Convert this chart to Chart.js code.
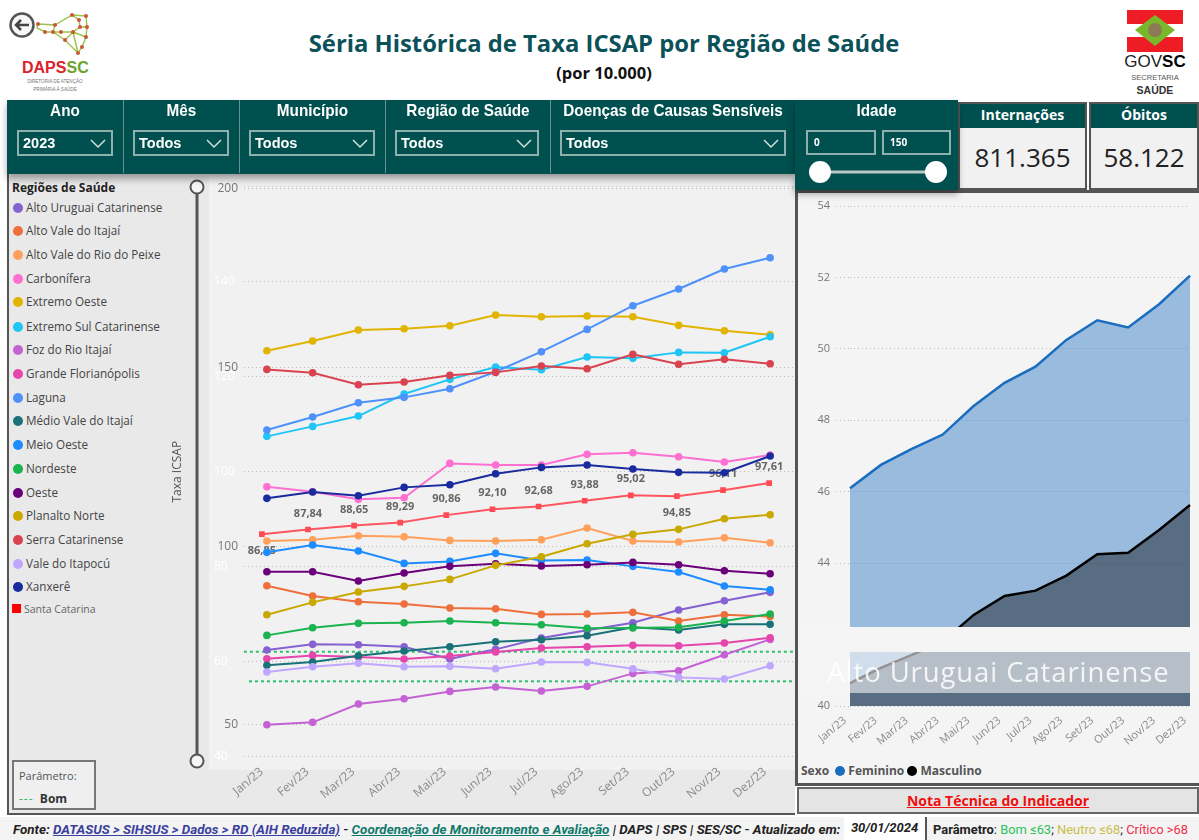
<!DOCTYPE html>
<html lang="pt-BR">
<head>
<meta charset="utf-8">
<title>Séria Histórica de Taxa ICSAP</title>
<script src="https://cdn.jsdelivr.net/npm/chart.js@4"></script>
<style>
  html, body { margin: 0; padding: 0; background: #fff; width: 1199px; height: 840px; overflow: hidden; }
  body { font-family: "Open Sans", sans-serif; position: relative; }
  .abs { position: absolute; }
  .title { left: 200px; width: 808px; top: 27px; text-align: center; font-size: 23.8px; font-weight: 700; color: #0b5159; white-space: nowrap; }
  .subtitle { left: 200px; width: 808px; top: 61px; text-align: center; font-size: 16.5px; font-weight: 700; color: #111; }
  .strip { left: 7px; top: 100px; width: 788px; height: 74px; background: #00504f; box-shadow: 0 5px 7px rgba(0,0,0,.35); }
  .idade { left: 795px; top: 100px; width: 163px; height: 90px; background: #00504f; box-shadow: 0 4px 7px rgba(0,0,0,.35); z-index: 5; }
  .sep { top: 100px; width: 1px; height: 73px; background: #6d8f8d; }
  .flabel { top: 101px; text-align: center; color: #fff; font-family: "Liberation Sans", sans-serif; font-weight: 700; font-size: 17px; white-space: nowrap; transform: scaleX(.9); }
  .dd { top: 130px; height: 22px; border: 2px solid #8fb0ad; color: #fff; font-family: "Liberation Sans", sans-serif; font-weight: 700; font-size: 14.5px; line-height: 22px; padding-left: 4px; box-sizing: content-box; }
  .dd svg { position: absolute; right: 5px; top: 7px; }
  .inp { top: 130px; border: 2px solid #8fb0ad; color: #fff; font-size: 10px; font-weight: 700; line-height: 21px; padding-left: 6px; z-index: 6; box-sizing: border-box; height: 25px; }
  .card { top: 102px; height: 88px; background: #f1f1f1; border: 2px solid #555; box-sizing: border-box; z-index: 4; }
  .card .h { height: 24px; background: #00504f; color: #fff; text-align: center; font-size: 14px; font-weight: 700; line-height: 21px; }
  .card .v { text-align: center; font-size: 26px; color: #222; line-height: 58px; }
  .left { left: 7px; top: 174px; width: 788px; height: 641px; background: #e9e9e9; border-left: 2px solid #555; border-bottom: 2px solid #555; box-sizing: border-box; }
  .plotbg { left: 209px; top: 176px; width: 586px; height: 594px; background: #f1f1f1; }
  .right { left: 795px; top: 190px; width: 404px; height: 596px; background: #f4f4f4; border-left: 3px solid #555; border-top: 3px solid #555; border-bottom: 3px solid #555; box-sizing: border-box; }
  .legend-item { left: 13px; height: 14px; font-size: 11.7px; line-height: 14px; color: #444; white-space: nowrap; }
  .legend-item i { display: inline-block; width: 10px; height: 10px; border-radius: 50%; margin-right: 3px; vertical-align: -1px; }
  .band1 { left: 798px; top: 627px; width: 401px; height: 25px; background: #f5f5f5; }
  .band2 { left: 798px; top: 652px; width: 401px; height: 41px; background: rgba(245,245,245,.6); color: rgba(255,255,255,.85); font-size: 27.5px; letter-spacing: .9px; text-align: center; line-height: 40px; white-space: nowrap; }
  .note { left: 797px; top: 787px; width: 402px; height: 27px; background: #e4e4e4; border: 2px solid #666; box-sizing: border-box; text-align: center; font-size: 14px; font-weight: 700; color: #f01010; text-decoration: underline; line-height: 24px; }
  .foot { left: 0; top: 817px; width: 1199px; height: 23px; background: #f3f3f3; }
  .fit { position: absolute; font-family: Roboto, sans-serif; font-size: 13.5px; white-space: nowrap; color: #222; transform-origin: left center; line-height: 20px; }
  canvas { position: absolute; }
</style>
</head>
<body>
<div class="abs title">Séria Histórica de Taxa ICSAP por Região de Saúde</div>
<div class="abs subtitle">(por 10.000)</div>

<!-- logo DAPS -->
<svg class="abs" style="left:5px;top:5px" width="100" height="92" viewBox="5 5 100 92">
  <g stroke="#9cc24a" stroke-width="1.4" fill="none">
    <path d="M38 24L55 25L72 15L86 16L87 27L86 37L82 47L78 53L65 40L53 32L45 32L37 28L38 24M55 25L53 32M61 32L73 32L80 27L79 20L72 15M73 32L65 40M73 32L86 37M80 27L87 27M78 53L73 32M45 32L61 32"/>
  </g>
  <g fill="#c9573a">
    <circle cx="38" cy="24" r="2"/><circle cx="55" cy="25" r="2"/><circle cx="72" cy="15" r="2"/><circle cx="86" cy="16" r="2"/>
    <circle cx="79" cy="20" r="2"/><circle cx="80" cy="27" r="2"/><circle cx="87" cy="27" r="2"/><circle cx="45" cy="32" r="2"/>
    <circle cx="53" cy="32" r="2"/><circle cx="61" cy="32" r="2"/><circle cx="73" cy="32" r="2"/><circle cx="86" cy="37" r="2"/>
    <circle cx="65" cy="40" r="2"/><circle cx="82" cy="47" r="2"/><circle cx="78" cy="53" r="2"/>
  </g>
  <circle cx="22" cy="25" r="11.5" fill="#f4f4f4" fill-opacity=".6" stroke="#555" stroke-width="2.5"/>
  <path d="M29 25H16M21 20L16 25L21 30" stroke="#444" stroke-width="2.5" fill="none"/>
  <text x="22" y="73" font-family="Liberation Sans" font-weight="700" font-size="16" fill="#d8232a">DAPS<tspan fill="#6da32d">SC</tspan></text>
  <text x="55" y="83" text-anchor="middle" font-family="Liberation Sans" font-size="4.6" fill="#777">DIRETORIA DE ATENÇÃO</text>
  <text x="55" y="91" text-anchor="middle" font-family="Liberation Sans" font-size="4.6" fill="#777">PRIMÁRIA À SAÚDE</text>
</svg>

<!-- logo GOVSC -->
<svg class="abs" style="left:1120px;top:5px" width="72" height="92" viewBox="1120 5 72 92">
  <rect x="1127" y="10" width="56" height="14" fill="#ee1c25"/>
  <rect x="1127" y="37" width="56" height="15" fill="#ee1c25"/>
  <path d="M1155 15L1175 30L1155 46L1135 30Z" fill="#78b82a"/>
  <circle cx="1155" cy="30" r="7" fill="#8a7a55"/>
  <text x="1155" y="67" text-anchor="middle" font-family="Liberation Sans" font-size="17" fill="#222">GOV<tspan font-weight="700" fill="#000">SC</tspan></text>
  <text x="1155" y="80" text-anchor="middle" font-family="Liberation Sans" font-size="7.5" fill="#555">SECRETARIA</text>
  <text x="1155" y="94" text-anchor="middle" font-family="Liberation Sans" font-weight="700" font-size="10.5" fill="#333">SAÚDE</text>
</svg>

<div class="abs left"></div>
<div class="abs plotbg"></div>
<div class="abs right"></div>

<div class="abs" style="left:12px;top:179px;font-size:12px;font-weight:700;color:#222">Regiões de Saúde</div>
<div id="legend"></div>

<canvas id="mainChart" width="627" height="642" style="left:170px;top:170px"></canvas>
<canvas id="sexChart" width="401" height="555" style="left:798px;top:193px"></canvas>

<!-- slider vertical -->
<svg class="abs" style="left:188px;top:178px" width="18" height="592">
  <line x1="9" y1="9" x2="9" y2="583" stroke="#555" stroke-width="3"/>
  <circle cx="9" cy="9" r="6.5" fill="#f6f6f6" stroke="#555" stroke-width="2"/>
  <circle cx="9" cy="583" r="6.5" fill="#f6f6f6" stroke="#555" stroke-width="2"/>
</svg>

<div class="abs band1"></div>
<div class="abs band2">Alto Uruguai Catarinense</div>

<div class="abs strip"></div>
<div class="abs sep" style="left:123px"></div>
<div class="abs sep" style="left:239px"></div>
<div class="abs sep" style="left:385px"></div>
<div class="abs sep" style="left:550px"></div>
<div id="filters"></div>

<div class="abs idade"></div>
<div class="abs flabel" style="left:795px;width:163px;z-index:6">Idade</div>
<div class="abs inp" style="left:806px;width:70px">0</div>
<div class="abs inp" style="left:882px;width:69px">150</div>
<svg class="abs" style="left:805px;top:158px;z-index:6" width="148" height="30">
  <line x1="15" y1="14" x2="131" y2="14" stroke="#b9c9c7" stroke-width="3"/>
  <circle cx="15" cy="14" r="11" fill="#fff"/>
  <circle cx="131" cy="14" r="11" fill="#fff"/>
</svg>

<div class="abs card" style="left:958px;width:129px"><div class="h">Internações</div><div class="v">811.365</div></div>
<div class="abs card" style="left:1089px;width:110px"><div class="h">Óbitos</div><div class="v">58.122</div></div>

<div class="abs" style="left:801px;top:762px;font-size:12px;font-weight:700;color:#555;white-space:nowrap">Sexo <i style="display:inline-block;width:10px;height:10px;border-radius:50%;background:#1a6cbf;vertical-align:-1px;margin-left:3px"></i> Feminino <i style="display:inline-block;width:10px;height:10px;border-radius:50%;background:#000;vertical-align:-1px"></i> Masculino</div>
<div class="abs note">Nota Técnica do Indicador</div>

<div class="abs" style="left:12px;top:760px;width:84px;height:50px;background:#efefef;border:2px solid #777;box-sizing:border-box;font-size:11px;color:#555;padding:6px 0 0 5px;z-index:3;white-space:nowrap">Parâmetro:<div style="margin-top:7px;font-weight:700;font-size:12px;color:#333"><span style="color:#2bb673;font-weight:400;letter-spacing:1px">---</span>&nbsp; Bom</div></div>

<div class="abs foot">
  <span class="fit" data-w="827" style="left:13px;top:2px;font-weight:700;font-style:italic">Fonte: <u style="color:#3b3f9e">DATASUS &gt; SIHSUS &gt; Dados &gt; RD (AIH Reduzida)</u> - <u style="color:#0f7a6c">Coordenação de Monitoramento e Avaliação</u> | DAPS | SPS | SES/SC - Atualizado em:</span>
  <div class="abs" style="left:844px;top:0;width:81px;height:23px;background:#fff;text-align:center;font-family:Roboto;font-size:13px;font-weight:700;font-style:italic;line-height:22px;color:#222">30/01/2024</div>
  <div class="abs" style="left:925px;top:0;width:2px;height:23px;background:#555"></div>
  <span class="fit" data-w="255" style="left:933px;top:2px"><b>Parâmetro</b>: <span style="color:#2bc45a">Bom ≤63</span>; <span style="color:#c8c04a">Neutro ≤68</span>; <span style="color:#f0304a">Crítico &gt;68</span></span>
</div>

<script>
const months = ['Jan/23','Fev/23','Mar/23','Abr/23','Mai/23','Jun/23','Jul/23','Ago/23','Set/23','Out/23','Nov/23','Dez/23'];

const altoUruguai = [62.46,63.65,63.58,63.16,60.56,62.6,64.98,66.6,68.21,70.88,72.84,74.6];
const altoValeItajai = [76,73.82,72.63,72.14,71.3,71.16,69.96,70.04,70.39,68.56,69.89,69.54];
const altoValeRioPeixe = [85.4,85.68,86.53,86.32,85.54,85.4,85.68,88.14,85.4,85.19,86.11,85.05];
const carbonifera = [96.84,95.79,94.18,94.53,101.75,101.4,101.4,103.65,104,103.16,102.04,103.51];
const extremoOeste = [125.47,127.51,129.82,130.11,130.74,132.98,132.63,132.77,132.63,130.81,129.68,128.84];
const extremoSul = [107.44,109.54,111.72,116.35,119.44,122.04,121.47,124.14,123.86,125.12,125.05,128.42];
const fozRioItajai = [46.74,47.23,51.09,52.21,53.75,54.67,53.82,54.81,57.54,58.11,61.47,64.7];
const grandeFloripa = [60.63,61.33,60.98,60.56,61.19,62.04,62.88,63.16,63.44,63.37,63.93,65.05];
const laguna = [108.77,111.51,114.53,115.65,117.47,121.05,125.26,129.96,134.95,138.46,142.67,145.05];
const medioVale = [59.23,59.93,61.26,62.25,63.16,64.21,64.63,65.47,67.23,66.67,67.86,67.86];
const meioOeste = [83.02,84.56,83.3,80.7,81.12,82.81,81.33,81.4,80.07,78.88,75.93,75.16];
const nordeste = [65.54,67.16,68.07,68.21,68.56,68.21,67.79,67.02,67.09,67.23,68.56,70.04];
const oeste = [78.95,78.95,76.98,78.67,80.07,80.63,80.14,80.42,80.91,80.42,79.16,78.53];
const planaltoNorte = [69.89,72.49,74.67,75.86,77.33,80.28,82.11,84.84,86.81,87.86,90.11,90.95];
const serraCatarinense = [121.54,120.84,118.32,118.88,120.28,120.91,122.25,121.68,124.7,122.6,123.65,122.74];
const valeItapocu = [57.82,58.95,59.65,58.95,59.02,58.53,59.93,59.86,58.53,56.7,56.35,59.16];
const xanxere = [94.39,95.72,94.95,96.7,97.26,99.58,100.91,101.4,100.56,99.86,99.79,103.3];
const santaCatarina = [86.85,87.84,88.65,89.29,90.86,92.10,92.68,93.88,95.02,94.85,96.11,97.61];

const bomAlto = [62.1,62.1];
const bomBaixo = [55.87,55.87];
const bomAltoX = [-0.39,11.52];
const bomBaixoX = [-0.28,11.52];

const feminino = [46.1,46.75,47.2,47.6,48.4,49.05,49.5,50.25,50.8,50.6,51.25,52.05];
const masculino = [40.64,41.07,41.43,41.8,42.55,43.08,43.23,43.65,44.25,44.29,44.93,45.63];

const mainTicks = [40,60,80,100,120,140,160];
const overTicks = [50,100,150,200];
const sexTicks = [40,42,44,46,48,50,52,54];

const regions = [
  ['Alto Uruguai Catarinense', altoUruguai, '#8661d1', 207],
  ['Alto Vale do Itajaí', altoValeItajai, '#ee6f3c', 230],
  ['Alto Vale do Rio do Peixe', altoValeRioPeixe, '#ffa05c', 254],
  ['Carbonífera', carbonifera, '#fd70d2', 278],
  ['Extremo Oeste', extremoOeste, '#e0b400', 301],
  ['Extremo Sul Catarinense', extremoSul, '#1fc5f5', 326],
  ['Foz do Rio Itajaí', fozRioItajai, '#c462d4', 349],
  ['Grande Florianópolis', grandeFloripa, '#e645ab', 373],
  ['Laguna', laguna, '#4e91fb', 397],
  ['Médio Vale do Itajaí', medioVale, '#197278', 420],
  ['Meio Oeste', meioOeste, '#1c8cff', 444],
  ['Nordeste', nordeste, '#1ab34f', 468],
  ['Oeste', oeste, '#6b007b', 492],
  ['Planalto Norte', planaltoNorte, '#c9a800', 515],
  ['Serra Catarinense', serraCatarinense, '#d9434f', 539],
  ['Vale do Itapocú', valeItapocu, '#bfa6ff', 563],
  ['Xanxerê', xanxere, '#1a2b9f', 586]
];

// legenda e filtros
const legendBox = document.getElementById('legend');
regions.forEach(r => {
  const d = document.createElement('div');
  d.className = 'abs legend-item';
  d.style.top = (r[3] - 7) + 'px';
  d.innerHTML = '<i style="background:' + r[2] + '"></i>' + r[0];
  legendBox.appendChild(d);
});
const sc = document.createElement('div');
sc.className = 'abs';
sc.style.cssText = 'left:12px;top:603px;font-size:10.5px;color:#666;white-space:nowrap;line-height:12px';
sc.innerHTML = '<i style="display:inline-block;width:9px;height:9px;background:#f00;margin-right:3px;vertical-align:0"></i>Santa Catarina';
legendBox.appendChild(sc);

const filters = [
  ['Ano', '2023', 7, 116, 17, 92],
  ['Mês', 'Todos', 124, 115, 133, 92],
  ['Município', 'Todos', 240, 145, 249, 122],
  ['Região de Saúde', 'Todos', 386, 164, 395, 140],
  ['Doenças de Causas Sensíveis', 'Todos', 551, 244, 560, 222]
];
const chev = '<svg width="16" height="10"><path d="M1 1L8 8L15 1" stroke="#cfe0de" stroke-width="1.5" fill="none"/></svg>';
const fbox = document.getElementById('filters');
filters.forEach(f => {
  fbox.insertAdjacentHTML('beforeend',
    '<div class="abs flabel" style="left:' + f[2] + 'px;width:' + f[3] + 'px">' + f[0] + '</div>' +
    '<div class="abs dd" style="left:' + f[4] + 'px;width:' + (f[5] - 4) + 'px">' + f[1] + chev + '</div>');
});

// rodape estreito: ajusta a largura do texto
document.querySelectorAll('.fit').forEach(el => {
  el.style.transform = 'scaleX(' + (el.dataset.w / el.offsetWidth) + ')';
});

const labelsBelow = [0, 9];
const valueLabels = {
  id: 'valueLabels',
  beforeDatasetsDraw(chart) {
    const idx = chart.data.datasets.findIndex(d => d.label === 'Santa Catarina');
    const ctx = chart.ctx;
    ctx.save();
    ctx.font = 'bold 11px "Open Sans"';
    ctx.fillStyle = '#666';
    ctx.textAlign = 'center';
    ctx.textBaseline = 'middle';
    chart.getDatasetMeta(idx).data.forEach((pt, i) => {
      const off = labelsBelow.includes(i) ? 17 : -16;
      ctx.fillText(santaCatarina[i].toFixed(2).replace('.', ','), pt.x, pt.y + off);
    });
    ctx.restore();
  }
};

const datasets = regions.map((r, i) => ({
  label: r[0],
  data: r[1],
  borderColor: r[2],
  backgroundColor: r[2],
  borderWidth: 2,
  pointRadius: 3.8,
  pointBorderWidth: 0,
  tension: 0,
  order: -i
}));
datasets.push({
  label: 'Santa Catarina',
  data: santaCatarina.map((v, i) => ({ x: i, y: v })),
  xAxisID: 'x2',
  borderColor: '#ff5560',
  backgroundColor: '#ff4a55',
  borderWidth: 2,
  pointStyle: 'rect',
  pointRadius: 4,
  pointBorderWidth: 0,
  tension: 0,
  order: -100
});
[[bomAltoX, bomAlto], [bomBaixoX, bomBaixo]].forEach(b => {
  datasets.push({
    label: 'Bom',
    data: b[0].map((x, i) => ({ x: x, y: b[1][i] })),
    xAxisID: 'x2',
    borderColor: '#2fbf71',
    borderWidth: 2,
    borderDash: [3, 3],
    pointRadius: 0,
    order: 50
  });
});

const dotted = { display: false, dash: [1, 3] };

new Chart(document.getElementById('mainChart'), {
  type: 'line',
  data: { labels: months, datasets: datasets },
  plugins: [valueLabels],
  options: {
    responsive: false,
    animation: false,
    devicePixelRatio: 1,
    layout: { padding: { top: 16.7, right: 0, bottom: 0, left: 0 } },
    plugins: { legend: { display: false }, tooltip: { enabled: false } },
    scales: {
      x: {
        offset: true,
        grid: { display: false },
        border: { display: false },
        ticks: { minRotation: 40, maxRotation: 40, autoSkip: false, color: '#8a8a8a', padding: 0, labelOffset: -5, font: { family: 'Open Sans', size: 12 } },
        afterFit(s) { s.height = 55.3; }
      },
      x2: { type: 'linear', display: false, min: -0.3875, max: 11.517 },
      y: {
        position: 'left',
        weight: 0,
        min: 40,
        max: 160,
        afterBuildTicks(s) { s.ticks = mainTicks.map(v => ({ value: v })); },
        grid: { color: '#bdbdbd', drawTicks: false },
        border: dotted,
        // mirror: o texto nao e cortado pela largura zero da escala
        ticks: { mirror: true, color: '#ffffff', padding: -30, font: { family: 'Open Sans', size: 12 }, callback: v => (v === 160 ? '' : v) },
        afterFit(s) { s.width = 0; }
      },
      y2: {
        position: 'left',
        weight: 1,
        min: 41.14,
        max: 200.45,
        afterBuildTicks(s) { s.ticks = overTicks.map(v => ({ value: v })); },
        grid: { color: '#bdbdbd', drawTicks: false },
        border: dotted,
        title: { display: true, text: 'Taxa ICSAP', color: '#555', padding: 0, font: { family: 'Open Sans', size: 12 } },
        ticks: { color: '#777', padding: 6, font: { family: 'Open Sans', size: 12 } },
        afterFit(s) { s.width = 74; }
      }
    }
  }
});

new Chart(document.getElementById('sexChart'), {
  type: 'line',
  data: {
    labels: months,
    datasets: [
      { label: 'Masculino', data: masculino, borderColor: '#000', backgroundColor: 'rgba(0,0,0,0.41)', borderWidth: 2.5, pointRadius: 0, fill: 'origin', tension: 0 },
      { label: 'Feminino', data: feminino, borderColor: '#1a6cbf', backgroundColor: 'rgba(26,108,191,0.42)', borderWidth: 2.5, pointRadius: 0, fill: 'origin', tension: 0 }
    ]
  },
  options: {
    responsive: false,
    animation: false,
    devicePixelRatio: 1,
    layout: { padding: { top: 13, right: 9, bottom: 0, left: 0 } },
    plugins: { legend: { display: false }, tooltip: { enabled: false } },
    scales: {
      x: {
        grid: { display: false },
        border: { display: false },
        ticks: { minRotation: 40, maxRotation: 40, autoSkip: false, color: '#8a8a8a', padding: 0, labelOffset: -5, font: { family: 'Open Sans', size: 11 } },
        afterFit(s) { s.height = 42; }
      },
      y: {
        min: 40,
        max: 54,
        afterBuildTicks(s) { s.ticks = sexTicks.map(v => ({ value: v })); },
        grid: { color: '#bdbdbd', tickBorderDash: [1, 3], tickLength: 14 },
        border: dotted,
        ticks: { color: '#777', padding: 6, font: { family: 'Open Sans', size: 11 } },
        afterFit(s) { s.width = 52; }
      }
    }
  }
});
</script>
</body>
</html>
